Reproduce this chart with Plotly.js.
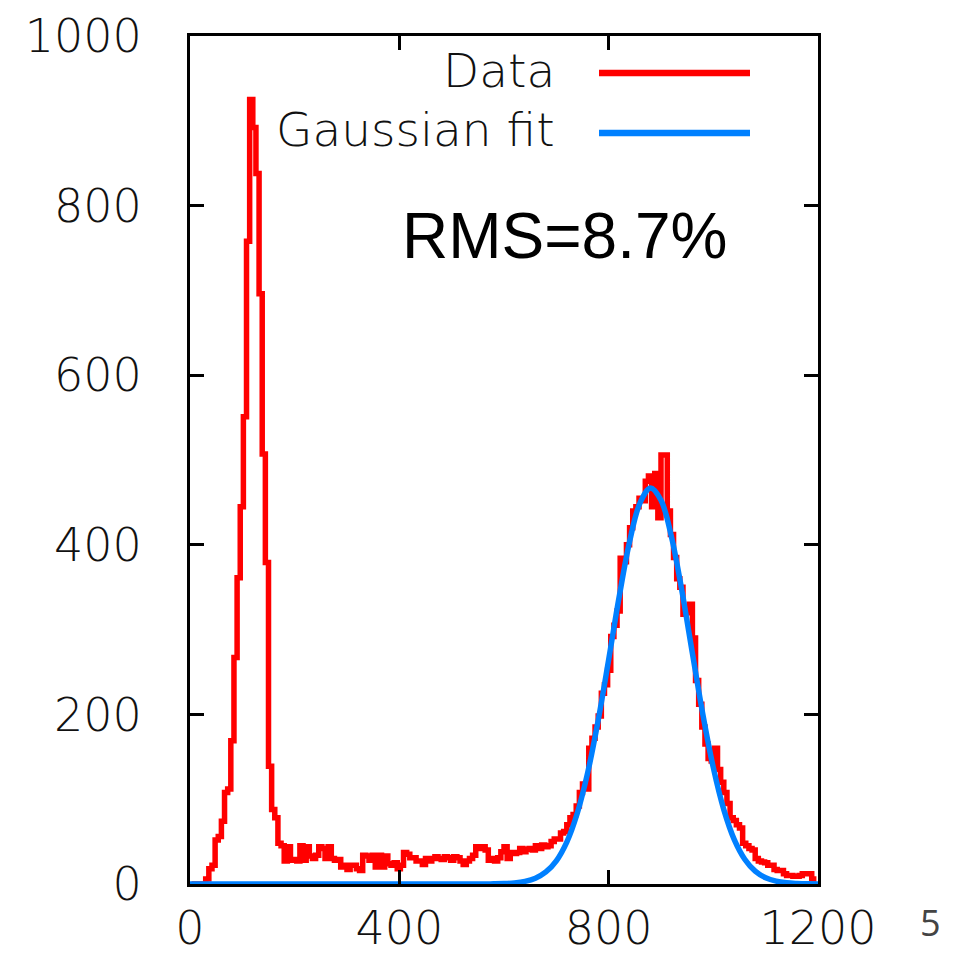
<!DOCTYPE html>
<html>
<head>
<meta charset="utf-8">
<script src="https://cdn.plot.ly/plotly-3.0.1.min.js"></script>
<style>
  html, body { margin: 0; padding: 0; background: #ffffff; }
  #chart { width: 955px; height: 960px; }
</style>
</head>
<body>
<div id="chart"></div>
<script>
// ---- data ----
// Histogram ("Data"): bin width and counts per bin, starting at 0
const binWidth = 6;
const dataCounts = [
  0, 0, 0, 0, 0,
  6, 18, 22, 52, 56,
  74, 108, 112, 169, 267,
  361, 445, 551, 758, 925,
  892, 838, 696, 507, 379,
  139, 88, 78, 48, 45,
  27, 44, 28, 29, 27,
  45, 28, 44, 33, 30,
  34, 44, 42, 30, 44,
  30, 28, 29, 20, 22,
  17, 22, 22, 18, 16,
  34, 33, 28, 34, 20,
  34, 20, 33, 24, 22,
  25, 18, 22, 37, 35,
  31, 31, 27, 27, 23,
  30, 27, 30, 32, 30,
  29, 32, 31, 28, 32,
  31, 27, 23, 27, 30,
  34, 44, 42, 44, 40,
  28, 30, 27, 31, 38,
  44, 30, 37, 36, 37,
  42, 38, 41, 42, 40,
  45, 42, 46, 44, 45,
  50, 53, 53, 60, 62,
  70, 78, 82, 92, 108,
  118, 112, 160, 172, 185,
  198, 225, 235, 252, 292,
  305, 322, 384, 380, 400,
  420, 440, 445, 455, 452,
  475, 481, 445, 484, 432,
  506, 506, 440, 412, 385,
  360, 350, 318, 320, 330,
  290, 240, 212, 185, 165,
  148, 145, 160, 135, 120,
  108, 95, 78, 75, 70,
  66, 48, 45, 42, 40,
  30, 27, 26, 25, 22,
  22, 17, 16, 16, 12,
  10, 10, 9, 9, 10,
  12, 12, 12, 6, 6
];

// Gaussian fit curve
const fitX = [0, 500, 560, 580, 600, 620, 640, 660, 680, 700, 720, 740, 760, 780, 800,
              820, 840, 860, 880, 900, 920, 940, 960, 980, 1000, 1020, 1040, 1060,
              1080, 1100, 1120, 1140, 1160, 1180, 1200];
const fitY = [0, 0, 0.1, 0.2, 0.5, 1.3, 3.1, 6.8, 14.2, 27.4, 49.5, 83.5, 131.5, 193.1, 264.6,
              338.4, 403.8, 449.5, 467, 452.6, 409.4, 345.5, 272.1, 199.9, 137.1, 87.7, 52.3, 29.2,
              15.1, 7.3, 3.3, 1.4, 0.6, 0.2, 0.1];

// axis ticks
const xTicks = [0, 400, 800, 1200];
const yTicks = [0, 200, 400, 600, 800, 1000];

const seriesNames = ["Data", "Gaussian fit"];
const rmsText = "RMS=8.7%";
const cornerText = "5";

// ---- build ----
const binCenters = dataCounts.map((_, i) => i * binWidth + binWidth / 2);

const RED = "#ff0000";
const BLUE = "#0080ff";
const LABEL_FONT = { family: "DejaVu Sans", size: 46, color: "#111", weight: 300 };

const traces = [
  {
    x: binCenters, y: dataCounts, type: "scatter", mode: "lines",
    line: { color: RED, width: 5.5, shape: "hvh" },
    name: seriesNames[0], showlegend: false, hoverinfo: "skip"
  },
  {
    x: fitX, y: fitY, type: "scatter", mode: "lines",
    line: { color: BLUE, width: 5.5, shape: "spline" },
    name: seriesNames[1], showlegend: false, hoverinfo: "skip"
  }
];

const L = 190, R = 818, T = 36, B = 884;
const px = v => (v - L) / (R - L);
const py = v => (B - v) / (B - T);

const axisCommon = {
  showgrid: false, zeroline: false,
  showline: true, linecolor: "#000", linewidth: 3, mirror: "ticks",
  ticks: "inside", ticklen: 14, tickwidth: 3, tickcolor: "#000",
  tickfont: LABEL_FONT,
  tickmode: "array", fixedrange: true
};

const layout = {
  width: 955, height: 960,
  margin: { l: L, r: 955 - R, t: T, b: 960 - B, pad: 0 },
  paper_bgcolor: "#ffffff", plot_bgcolor: "#ffffff",
  showlegend: false,
  xaxis: Object.assign({}, axisCommon, {
    range: [0, 1200], tickvals: xTicks, ticktext: xTicks.map(String),
    ticklabelstandoff: 2
  }),
  yaxis: Object.assign({}, axisCommon, {
    range: [0, 1000], tickvals: yTicks, ticktext: yTicks.map(String),
    ticklabelstandoff: 36
  }),
  shapes: [
    { type: "line", xref: "paper", yref: "paper", x0: px(599), x1: px(750), y0: py(73), y1: py(73),
      line: { color: RED, width: 6.5 } },
    { type: "line", xref: "paper", yref: "paper", x0: px(599), x1: px(750), y0: py(133), y1: py(133),
      line: { color: BLUE, width: 6.5 } }
  ],
  annotations: [
    { text: seriesNames[0], xref: "paper", yref: "paper", x: px(557), y: py(70),
      xanchor: "right", yanchor: "middle", showarrow: false,
      font: Object.assign({}, LABEL_FONT, { size: 47 }) },
    { text: seriesNames[1], xref: "paper", yref: "paper", x: px(557), y: py(130),
      xanchor: "right", yanchor: "middle", showarrow: false,
      font: Object.assign({}, LABEL_FONT, { size: 47 }) },
    { text: rmsText, xref: "paper", yref: "paper", x: px(564), y: py(236),
      xanchor: "center", yanchor: "middle", showarrow: false,
      font: { family: "Liberation Sans", size: 64, color: "#000" } },
    { text: cornerText, xref: "paper", yref: "paper", x: px(930), y: py(922),
      xanchor: "center", yanchor: "middle", showarrow: false,
      font: { family: "Open Sans", size: 36, color: "#444" } }
  ]
};

Plotly.newPlot("chart", traces, layout, { staticPlot: true, displayModeBar: false });
</script>
</body>
</html>
